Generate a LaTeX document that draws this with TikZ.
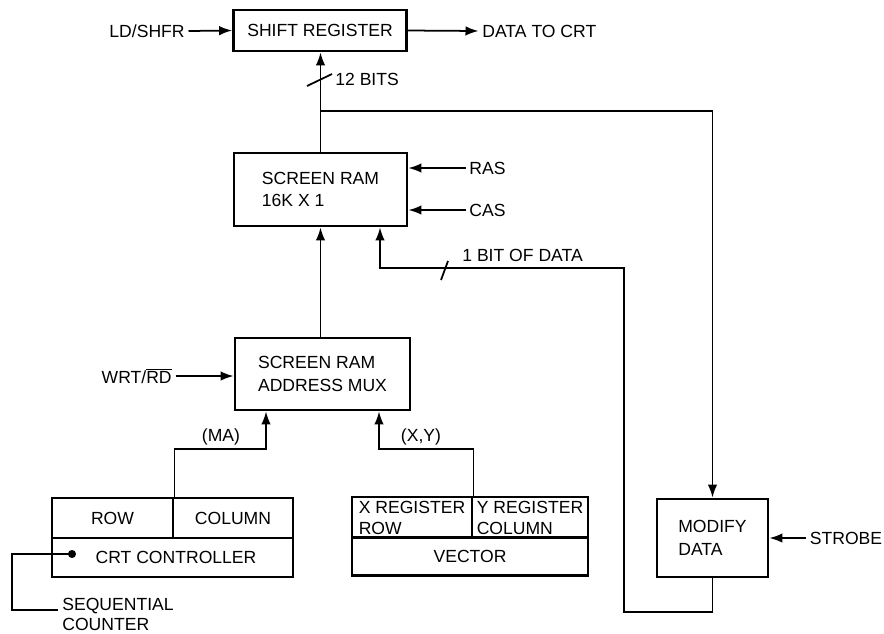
\documentclass[tikz,border=0pt]{standalone}
\usepackage{fontspec}
\setmainfont{Liberation Sans}
\usetikzlibrary{arrows.meta}

\begin{document}
\begin{tikzpicture}[x=0.02cm,y=-0.02cm,>={Latex[length=2.6mm,width=1.9mm]},line join=miter,
  blk/.style={draw,line width=1.6pt,inner sep=0pt,align=left,font=\fontsize{10}{13}\selectfont},
  wire/.style={line width=1pt},
  lbl/.style={inner sep=2pt,font=\fontsize{10}{12}\selectfont}]
\useasboundingbox (0,0) rectangle (884,633);
% blocks
\node[blk,minimum width=3.46cm,minimum height=0.82cm] (shreg) at (320,30.5) {SHIFT REGISTER};
\node[blk,minimum width=3.46cm,minimum height=1.46cm] (sram) at (320.5,189.5) {SCREEN RAM\\16K X 1};
\node[blk,minimum width=3.5cm,minimum height=1.44cm] (mux) at (322.5,374) {SCREEN RAM\\ADDRESS MUX};
\node[blk,minimum width=2.22cm,minimum height=1.56cm] (modify) at (712.5,538) {MODIFY\\DATA};
% crt controller
\node[blk,minimum width=2.42cm,minimum height=0.8cm] (row) at (112.5,518) {ROW};
\node[blk,minimum width=2.4cm,minimum height=0.8cm] (col) at (233,518) {COLUMN};
\node[blk,minimum width=4.82cm,minimum height=0.78cm] (crt) at (172.5,557.5) {\hspace*{4pt}CRT CONTROLLER};
% vector
\node[blk,minimum width=2.4cm,minimum height=0.82cm,font=\fontsize{10}{12}\selectfont] (xreg) at (412,517.5) {X REGISTER\\ROW};
\node[blk,minimum width=2.32cm,minimum height=0.82cm,font=\fontsize{10}{12}\selectfont] (yreg) at (530,517.5) {Y REGISTER\\COLUMN};
\node[blk,minimum width=4.72cm,minimum height=0.76cm] (vec) at (470,556.5) {VECTOR};
% labels
\node[lbl,anchor=east] (ld) at (188.5,31) {LD/SHFR};
\node[lbl,anchor=west] (dout) at (478.5,31) {DATA TO CRT};
\node[lbl,anchor=west] (bits) at (331.5,79) {12 BITS};
\node[lbl,anchor=west] (ras) at (465.5,168) {RAS};
\node[lbl,anchor=west] (cas) at (465.5,210) {CAS};
\node[lbl,anchor=west] (onebit) at (458.5,255) {1 BIT OF DATA};
\node[lbl,anchor=east] (wrt) at (175.5,376) {WRT/$\overline{\hbox{RD}}$};
\node[lbl] (malbl) at (221,437) {(MA)};
\node[lbl] (xylbl) at (421,437) {(X,Y)};
\node[lbl,anchor=west] (strobe) at (806,538) {STROBE};
\node[lbl,anchor=north west,inner sep=0pt,align=left,font=\fontsize{10}{11.5}\selectfont] (seq) at (62,598) {SEQUENTIAL\\COUNTER};
% junctions
\coordinate (br) at (320.5,111);
\coordinate (fbl) at (624,612);
\coordinate (fbt) at (624,268);
\coordinate (datin) at (380,0);
\coordinate (ma) at (266,449);
\coordinate (xy) at (379,449);
\coordinate (seqdot) at (72,554);
\coordinate (seqend) at (58,610);
% connectors
\draw[wire,->] (ld.east) -- (shreg.west);
\draw[wire,->] (shreg.east) -- (dout.west);
\draw[wire,->] (sram.north) -- (sram.north |- shreg.south);
\draw[wire,->] (br) -| (modify.north);
\draw[wire] (307,86) -- (332,74);
\draw[wire,->] (ras.west) -- (ras.west -| sram.east);
\draw[wire,->] (cas.west) -- (cas.west -| sram.east);
\draw[wire,->] (mux.north -| sram.south) -- (sram.south);
\draw[wire,->] (modify.south) |- (fbl) -- (fbt) -| (datin |- sram.south);
\draw[wire] (441,280) -- (448,261);
\draw[wire,->] (wrt.east) -- (wrt.east -| mux.west);
\draw[wire,->] (row.north east) |- (ma) -- (ma |- mux.south);
\draw[wire,->] (xreg.north east) |- (xy) -- (xy |- mux.south);
\draw[wire,->] (strobe.west) -- (strobe.west -| modify.east);
\fill (seqdot) circle (2.3pt);
\draw[wire] (seqdot) -| (12,610) -- (seqend);
\end{tikzpicture}
\end{document}
